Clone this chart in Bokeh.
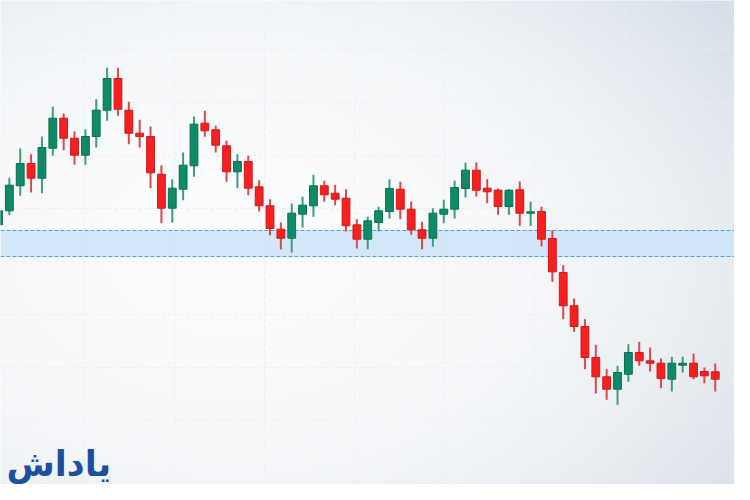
import numpy as np
from bokeh.plotting import figure
from bokeh.models import Range1d, FixedTicker, Label, BoxAnnotation, ColumnDataSource
from bokeh.embed import file_html
from bokeh.resources import INLINE

# ---- data (price units) ----
opens  = [267.7, 281.7, 306.7, 329.0, 314.3, 344.3, 374.3, 354.3, 337.3, 356.0,
          382.3, 414.0, 382.3, 359.3, 356.0, 318.3, 284.3, 303.3, 326.7, 369.3,
          362.7, 346.7, 320.7, 331.0, 305.7, 286.7, 263.3, 254.3, 278.3, 286.7,
          306.7, 299.3, 294.3, 267.7, 253.3, 270.0, 281.0, 303.3, 283.3, 262.7,
          254.3, 278.3, 283.3, 304.0, 322.3, 304.3, 302.3, 286.0, 302.7, 279.3,
          281.0, 254.0, 220.0, 186.7, 166.0, 135.0, 115.7, 103.3, 118.3, 140.0,
          131.7, 129.3, 113.3, 127.3, 129.3, 121.0, 120.7]
highs  = [291.0, 314.7, 344.0, 338.3, 356.0, 385.7, 379.0, 361.0, 363.3, 393.3,
          424.7, 424.7, 390.7, 372.7, 366.0, 327.3, 313.3, 340.0, 376.0, 381.7,
          366.7, 351.7, 338.3, 336.7, 312.3, 293.3, 270.0, 289.0, 295.7, 317.7,
          311.7, 307.7, 303.3, 273.3, 275.7, 285.7, 313.3, 310.7, 291.0, 270.7,
          284.3, 292.7, 311.7, 330.0, 330.0, 313.3, 304.0, 303.3, 311.0, 291.0,
          285.7, 262.3, 227.3, 194.0, 173.3, 147.7, 123.3, 126.7, 148.3, 150.7,
          145.0, 134.0, 135.7, 135.7, 139.0, 125.0, 129.0]
lows   = [257.7, 277.3, 296.7, 300.0, 299.3, 336.7, 342.3, 327.7, 327.7, 345.0,
          371.7, 376.7, 348.3, 345.0, 304.3, 269.3, 270.0, 292.3, 315.7, 355.7,
          340.0, 310.7, 304.3, 297.3, 281.0, 257.3, 243.3, 240.0, 265.0, 275.7,
          290.7, 287.3, 261.0, 244.0, 243.3, 261.0, 274.0, 273.3, 257.7, 243.3,
          245.7, 269.3, 274.0, 295.0, 296.0, 289.3, 277.7, 277.7, 266.7, 266.7,
          246.0, 210.7, 173.3, 160.7, 123.3, 99.0, 92.7, 87.7, 110.7, 126.7,
          121.0, 104.3, 101.0, 120.0, 113.3, 109.3, 101.0]
closes = [281.7, 307.3, 329.0, 314.3, 345.0, 374.3, 354.3, 337.3, 356.0, 382.3,
          414.0, 383.3, 359.3, 356.0, 319.7, 284.3, 304.3, 327.3, 368.3, 361.7,
          347.3, 320.7, 331.0, 304.3, 286.7, 264.0, 254.3, 279.3, 287.3, 306.7,
          297.7, 293.3, 266.7, 253.3, 271.7, 281.7, 304.0, 283.3, 262.7, 254.3,
          279.3, 283.3, 305.0, 322.3, 302.3, 300.7, 286.0, 302.3, 279.3, 280.7,
          253.3, 220.7, 186.7, 166.0, 135.0, 115.7, 103.3, 120.0, 140.0, 131.7,
          129.3, 114.0, 129.3, 129.3, 115.7, 116.7, 113.3]
band_low = 236.0
band_high = 262.0
logo_text = "یاداش"

# ---- styling constants ----
W, H = 734, 484
STEP = 10.86
x_start = 2.0 / STEP
x_end = x_start + W / STEP
y_start, y_end = 8.0, 492.0

GREEN, GREEN_LINE, GREEN_WICK = "#0f8a66", "#0b7053", "#3f9c7c"
RED, RED_LINE, RED_WICK = "#f5201f", "#d01b1b", "#d84a4c"

idx = list(range(len(opens)))
up = [c >= o for o, c in zip(opens, closes)]
src = ColumnDataSource(dict(
    x=idx, open=opens, close=closes, high=highs, low=lows,
    top=[max(o, c) for o, c in zip(opens, closes)],
    bottom=[min(o, c) for o, c in zip(opens, closes)],
    fill=[GREEN if u else RED for u in up],
    line=[GREEN_LINE if u else RED_LINE for u in up],
    wick=[GREEN_WICK if u else RED_WICK for u in up],
))

p = figure(width=W, height=H, output_backend="svg", toolbar_location=None,
           x_range=Range1d(x_start, x_end), y_range=Range1d(y_start, y_end),
           x_axis_location=None, y_axis_location=None, min_border=0)
p.outline_line_color = None
p.border_fill_color = "#f4f6f8"

# ---- background gradient ----
ny, nx = 242, 367
yy, xx = np.mgrid[0:ny, 0:nx]
px = xx / (nx - 1) * 750.0
py = (1 - yy / (ny - 1)) * 500.0   # row 0 bottom -> py from top
d2 = ((px - 240) / 600.0) ** 2 + ((py - 250) / 430.0) ** 2
t = np.clip(d2, 0, 1) ** 1.1
top_w = np.clip((250 - py) / 250.0, 0, 1)
edge = np.stack([
    222 - 8 * top_w, 227 - 5 * top_w, 234 - 2 * top_w
], axis=-1)
white = np.array([251.0, 252.0, 253.0])
rgb = white * (1 - t[..., None]) + edge * t[..., None]
img = np.zeros((ny, nx), dtype=np.uint32)
view = img.view(dtype=np.uint8).reshape((ny, nx, 4))
view[..., 0] = rgb[..., 0].astype(np.uint8)
view[..., 1] = rgb[..., 1].astype(np.uint8)
view[..., 2] = rgb[..., 2].astype(np.uint8)
view[..., 3] = 255
x0_img = x_start - 8 / STEP
img_r = p.image_rgba(image=[img], x=x0_img, y=0, dw=750 / STEP, dh=500)
img_r.level = "image"

# ---- grid ----
p.xgrid.ticker = FixedTicker(ticks=[7.9, 16.2, 24.5, 32.8, 41.1, 49.4, 57.7])
p.ygrid.ticker = FixedTicker(ticks=[443, 390, 337, 284, 231, 178, 125, 72])
for g in (p.xgrid, p.ygrid):
    g.grid_line_color = "#eceef1"
    g.grid_line_dash = "3 3"
    g.grid_line_width = 1

# ---- support band ----
band_right = (742 - 6) / STEP
p.add_layout(BoxAnnotation(left=x_start, right=band_right, bottom=band_low, top=band_high,
                           fill_color="#cfe4f8", fill_alpha=0.9, line_alpha=0,
                           level="underlay"))
p.segment(x0=[x_start, x_start], y0=[band_low, band_high],
          x1=[band_right, band_right], y1=[band_low, band_high],
          line_color="#4aa6e2", line_dash="4 2", line_width=1.2)

# ---- candles ----
p.segment(x0="x", y0="low", x1="x", y1="high", source=src,
          line_color="wick", line_width=2)
p.vbar(x="x", top="top", bottom="bottom", width=0.72, source=src,
       fill_color="fill", line_color="line", line_width=1)

# ---- logo ----
p.add_layout(Label(x=6, y=1, x_units="screen", y_units="screen", text=logo_text,
                   text_font="DejaVu Sans", text_font_style="bold",
                   text_font_size="35px", text_color="#1c4f9e",
                   text_baseline="bottom"))

open("out.html", "w").write(file_html(p, INLINE))
